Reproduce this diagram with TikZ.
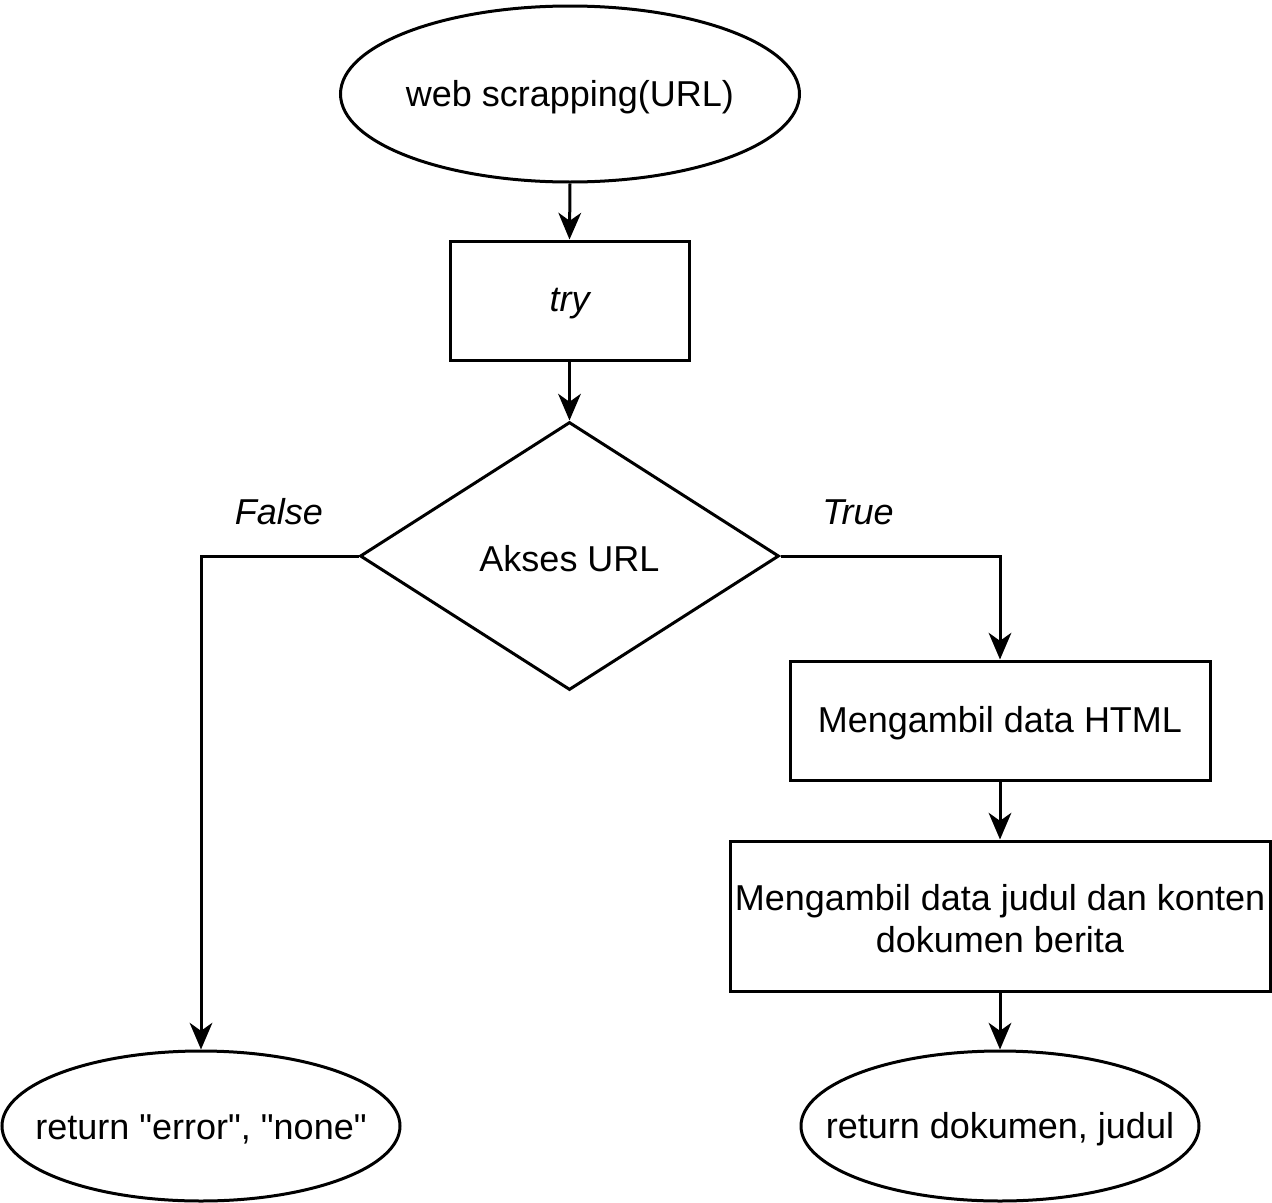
\documentclass[tikz,border=0pt]{standalone}
\usepackage{fontspec}
\setmainfont{Liberation Sans}[Ligatures=TeXOff]
\usetikzlibrary{shapes.geometric,arrows.meta}
\begin{document}
\begin{tikzpicture}[x=0.75pt,y=-0.75pt,
  base/.style={draw=black,line width=2.25pt,inner sep=0pt},
  txt/.style={font=\fontsize{27}{31.5}\selectfont,align=center,inner sep=0pt,yshift=-2.25pt},
  term/.style={base,ellipse},
  proc/.style={base,rectangle},
  dec/.style={base,diamond},
  arr/.style={line width=2.25pt,-{Stealth[length=20pt,width=17pt,inset=6pt]}},
  lbl/.style={font=\fontsize{27}{31.5}\selectfont\itshape}]
\useasboundingbox (0,0) rectangle (1272,1203);
\node[term,minimum width=459*0.75pt,minimum height=176*0.75pt,label={[txt]center:web scrapping(URL)}] (start) at (570,94) {};
\node[proc,minimum width=239*0.75pt,minimum height=119*0.75pt,label={[txt]center:\itshape try}] (try) at (569.5,300.5) {};
\node[dec,minimum width=419*0.75pt,minimum height=268*0.75pt,aspect=1.5,label={[txt]center:Akses URL}] (akses) at (569.5,556) {};
\node[proc,minimum width=420*0.75pt,minimum height=119*0.75pt,label={[txt]center:Mengambil data HTML}] (html) at (1000,720.5) {};
\node[proc,minimum width=540*0.75pt,minimum height=150*0.75pt,label={[txt]center:Mengambil data judul dan konten\\dokumen berita}] (judul) at (1000,916) {};
\node[term,minimum width=398*0.75pt,minimum height=150*0.75pt,label={[txt]center:return "error", "none"}] (err) at (201,1126) {};
\node[term,minimum width=398*0.75pt,minimum height=150*0.75pt,label={[txt]center:return dokumen, judul}] (ret) at (1000,1126) {};
\node[lbl] (lf) at (279,512) {False};
\node[lbl] (lt) at (858,512) {True};
\draw[arr] (start.south) -- (try.north);
\draw[arr] (try.south) -- (akses.north);
\draw[arr] (akses.west) -| (err.north);
\draw[arr] (akses.east) -| (html.north);
\draw[arr] (html.south) -- (judul.north);
\draw[arr] (judul.south) -- (ret.north);
\end{tikzpicture}
\end{document}
